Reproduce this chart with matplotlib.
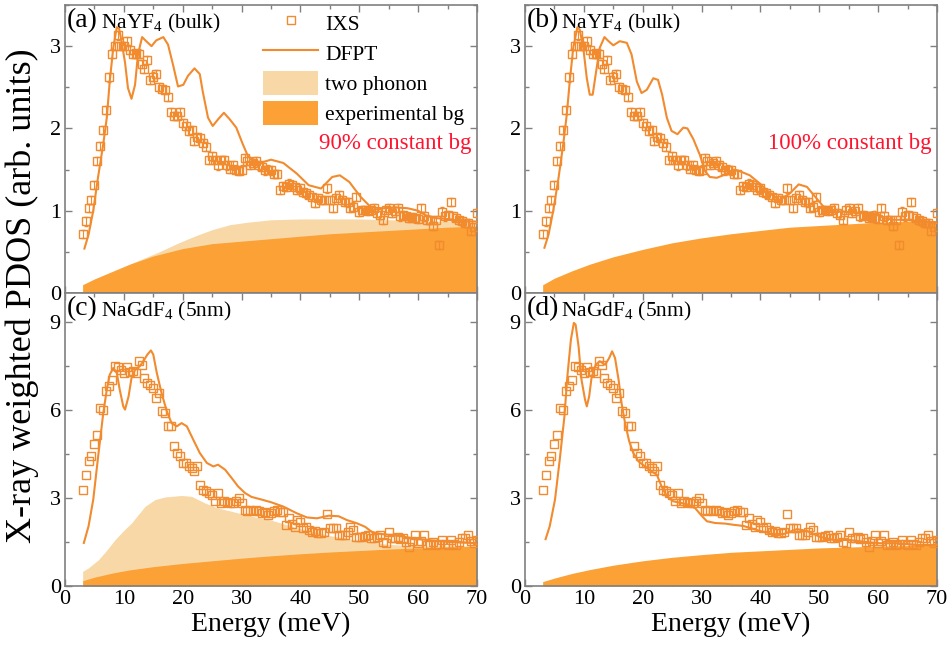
import numpy as np
import matplotlib
matplotlib.use("Agg")
import matplotlib.pyplot as plt
from matplotlib.patches import Patch
from matplotlib.lines import Line2D
from matplotlib.ticker import MultipleLocator

plt.rcParams['font.family'] = ['Liberation Serif', 'DejaVu Serif']
plt.rcParams['mathtext.fontset'] = 'custom'
plt.rcParams['mathtext.rm'] = 'Liberation Serif'
plt.rcParams['mathtext.it'] = 'Liberation Serif:italic'

# IXS energies (meV), 0.5 meV step
E_ixs = np.arange(3.0, 70.01, 0.5)

ixs_bulk = [0.72, 0.87, 1.03, 1.13, 1.31, 1.60, 1.79, 1.98, 2.22, 2.62,
            2.91, 3.00, 3.13, 3.00, 3.00, 3.06, 2.95, 2.91, 2.91, 2.91,
            2.78, 2.72, 2.83, 2.59, 2.63, 2.66, 2.50, 2.48, 2.47, 2.38,
            2.20, 2.15, 2.15, 2.20, 2.07, 2.03, 1.97, 1.98, 1.85, 1.90,
            1.88, 1.82, 1.78, 1.62, 1.66, 1.62, 1.55, 1.62, 1.62, 1.55,
            1.51, 1.55, 1.50, 1.48, 1.50, 1.64, 1.60, 1.56, 1.58, 1.60,
            1.55, 1.53, 1.49, 1.50, 1.49, 1.45, 1.45, 1.25, 1.30, 1.29,
            1.33, 1.31, 1.29, 1.25, 1.27, 1.23, 1.21, 1.19, 1.17, 1.09,
            1.15, 1.13, 1.13, 1.27, 1.13, 1.03, 1.15, 1.19, 1.13, 1.11,
            1.10, 1.03, 1.05, 1.17, 0.99, 1.01, 1.01, 1.00, 1.01, 1.03,
            0.97, 0.95, 0.89, 1.01, 1.03, 0.97, 1.00, 1.03, 0.93, 0.95,
            0.94, 0.91, 0.92, 0.91, 0.90, 1.03, 0.93, 0.89, 0.89, 0.81,
            0.89, 0.58, 0.99, 0.93, 0.95, 1.11, 0.93, 0.91, 0.89, 0.87,
            0.85, 0.85, 0.75, 0.80, 0.97]

ixs_nano = [3.29, 3.80, 4.25, 4.45, 4.85, 5.16, 6.07, 6.00, 6.64, 6.81,
            7.02, 7.52, 7.47, 7.36, 7.27, 7.47, 7.30, 7.33, 7.27, 7.67,
            7.55, 7.10, 6.93, 6.87, 6.76, 6.42, 6.59, 5.96, 5.90, 5.45,
            5.45, 4.77, 4.54, 4.43, 4.20, 4.20, 4.10, 4.03, 3.91, 4.08,
            3.46, 3.29, 3.23, 3.17, 3.10, 2.89, 3.17, 2.83, 2.89, 2.86,
            2.83, 2.83, 2.90, 3.00, 2.83, 2.60, 2.55, 2.58, 2.55, 2.61,
            2.55, 2.49, 2.52, 2.43, 2.48, 2.55, 2.59, 2.54, 2.54, 2.08,
            2.31, 2.10, 2.02, 2.25, 2.20, 1.97, 2.02, 1.90, 1.85, 1.88,
            1.80, 1.82, 1.85, 2.45, 1.97, 1.97, 1.97, 1.74, 1.74, 1.74,
            1.85, 2.02, 1.91, 1.68, 1.68, 1.68, 1.70, 1.74, 1.65, 1.63,
            1.68, 1.74, 1.50, 1.46, 1.85, 1.63, 1.63, 1.68, 1.60, 1.63,
            1.51, 1.34, 1.55, 1.74, 1.46, 1.55, 1.74, 1.40, 1.45, 1.51,
            1.40, 1.45, 1.57, 1.45, 1.40, 1.57, 1.45, 1.40, 1.50, 1.63,
            1.63, 1.74, 1.55, 1.46, 1.57]

err_bulk = 0.05

# DFPT curves
E_dfpt_a = [3.3, 4.0, 4.8, 5.6, 6.5, 7.1, 7.6, 8.2, 8.8, 9.2, 9.6, 10.2, 10.7, 11.3,
            11.9, 12.4, 13.1, 13.8, 14.7, 15.5, 16.7, 17.5, 18.4, 19.2, 20.1, 20.9,
            22.0, 22.9, 23.4, 24.3, 25.1, 26.0, 27.0, 28.0, 29.1, 30.2, 31.1, 33.1,
            35.0, 37.1, 39.4, 41.4, 43.5, 45.4, 46.7, 48.3, 50.2, 52.0, 54.0, 56.2,
            58.2, 60.0, 61.1, 62.9, 65.0, 67.4, 70.0]
dfpt_a = [0.54, 0.71, 1.00, 1.40, 1.81, 2.13, 2.57, 2.98, 3.23, 3.21, 3.06, 2.80, 2.49, 2.36,
          2.53, 2.90, 3.11, 3.06, 3.00, 3.07, 3.11, 3.02, 2.76, 2.51, 2.53, 2.64,
          2.73, 2.66, 2.45, 2.13, 2.03, 2.11, 2.19, 2.11, 2.01, 1.81, 1.66, 1.58,
          1.62, 1.58, 1.45, 1.31, 1.27, 1.41, 1.43, 1.35, 1.17, 1.04, 1.03, 1.04,
          1.03, 1.00, 0.95, 0.91, 0.90, 0.87, 0.87]

E_dfpt_b = [3.3, 4.0, 4.8, 5.7, 6.5, 7.1, 7.6, 8.2, 8.9, 9.3, 9.9, 10.5, 11.0, 11.5,
            12.1, 12.7, 13.5, 14.2, 15.0, 16.1, 17.3, 18.1, 19.0, 19.8, 20.7, 21.8,
            22.6, 23.3, 24.1, 24.9, 25.9, 26.9, 27.6, 28.6, 29.7, 30.6, 31.4, 32.6,
            34.0, 35.5, 36.5, 38.2, 39.9, 41.6, 43.3, 45.0, 46.5, 47.9, 49.3, 50.7,
            51.8, 54.1, 56.4, 58.0, 59.5, 60.9, 62.6, 64.8, 67.1, 70.0]
dfpt_b = [0.55, 0.71, 1.00, 1.40, 1.81, 2.17, 2.57, 2.98, 3.23, 3.20, 2.98, 2.61, 2.41, 2.41,
          2.70, 2.98, 3.11, 3.06, 3.01, 3.06, 3.04, 2.90, 2.57, 2.43, 2.47, 2.61,
          2.59, 2.41, 2.13, 1.97, 1.93, 2.01, 2.00, 1.87, 1.68, 1.48, 1.41, 1.40,
          1.44, 1.50, 1.48, 1.43, 1.33, 1.21, 1.13, 1.21, 1.32, 1.29, 1.17, 1.05,
          0.99, 0.99, 0.97, 0.97, 0.99, 0.91, 0.89, 0.89, 0.87, 0.86]

E_dfpt_c = [3.2, 4.0, 4.8, 5.7, 6.5, 7.1, 7.6, 8.2, 8.8, 9.3, 9.9, 10.2, 10.8, 11.3,
            11.9, 12.7, 13.3, 14.0, 14.6, 15.0, 15.6, 16.4, 17.3, 18.1, 19.0, 19.8,
            20.7, 21.8, 22.9, 24.1, 25.2, 26.0, 27.2, 28.3, 29.4, 30.6, 31.7, 33.4,
            35.0, 37.1, 39.4, 41.1, 42.8, 44.8, 46.5, 47.9, 49.6, 51.0, 52.1, 53.5,
            56.4, 59.3, 62.1, 65.0, 70.0]
dfpt_c = [1.47, 2.04, 2.95, 4.54, 5.90, 6.70, 7.21, 7.44, 7.27, 6.70, 6.13, 6.02, 6.47, 7.10,
          7.38, 7.50, 7.67, 7.90, 8.04, 7.90, 7.27, 6.59, 5.96, 5.56, 5.45, 5.56,
          5.45, 4.99, 4.54, 4.20, 4.08, 4.14, 3.97, 3.69, 3.40, 3.17, 3.04, 2.95,
          2.86, 2.71, 2.48, 2.34, 2.31, 2.40, 2.38, 2.25, 2.14, 2.02, 1.85, 1.78,
          1.72, 1.62, 1.56, 1.51, 1.46]

E_dfpt_d = [3.5, 4.2, 5.1, 5.9, 6.7, 7.2, 7.8, 8.3, 8.6, 9.1, 9.6, 10.2, 10.5, 10.9,
            11.3, 12.0, 12.7, 13.6, 14.3, 14.8, 15.3, 15.9, 16.4, 17.0, 17.7, 18.4,
            19.3, 20.4, 21.5, 22.4, 23.2, 24.1, 25.2, 26.6, 27.7, 28.9, 30.0, 30.9,
            32.3, 34.0, 35.4, 37.1, 39.9, 42.2, 43.9, 46.2, 47.9, 50.1, 52.4, 55.2,
            57.5, 60.3, 63.1, 66.5, 70.0]
dfpt_d = [1.60, 2.04, 2.95, 4.31, 5.79, 7.16, 8.41, 8.98, 8.92, 8.18, 7.04, 6.36, 6.13, 6.47,
          7.10, 7.55, 7.67, 7.55, 7.78, 8.01, 7.78, 7.04, 6.25, 5.56, 4.94, 4.54,
          4.25, 4.08, 3.91, 3.80, 3.40, 3.06, 2.89, 2.83, 2.78, 2.66, 2.40, 2.21,
          2.15, 2.13, 2.09, 2.05, 1.88, 1.77, 1.77, 1.94, 1.88, 1.68, 1.57, 1.57,
          1.51, 1.46, 1.46, 1.40, 1.40]

# experimental background and two-phonon (cumulative top) curves
E_bg = [3, 5, 8, 11, 15, 20, 25, 30, 35, 40, 45, 50, 55, 60, 65, 70]
bg_a = [0.10, 0.17, 0.26, 0.35, 0.45, 0.54, 0.60, 0.63, 0.66, 0.69, 0.72, 0.74, 0.76, 0.78, 0.80, 0.81]
bg_b = [0.10, 0.18, 0.27, 0.35, 0.44, 0.53, 0.61, 0.67, 0.72, 0.76, 0.80, 0.82, 0.84, 0.86, 0.87, 0.88]
bg_c = [0.18, 0.30, 0.44, 0.55, 0.66, 0.77, 0.86, 0.95, 1.03, 1.10, 1.16, 1.21, 1.26, 1.30, 1.33, 1.36]
bg_d = [0.15, 0.27, 0.43, 0.56, 0.71, 0.86, 0.98, 1.07, 1.15, 1.20, 1.25, 1.30, 1.33, 1.36, 1.38, 1.41]

E_tp_a = [3, 5, 8, 11, 13, 16, 19, 22, 25, 28, 31, 35, 40, 45, 50, 55, 60, 65, 70]
tp_a = [0.10, 0.17, 0.26, 0.35, 0.41, 0.50, 0.60, 0.69, 0.77, 0.83, 0.86, 0.89, 0.90, 0.90,
        0.90, 0.89, 0.88, 0.87, 0.86]
E_tp_c = [3, 4, 5.7, 7, 8.5, 10, 11.3, 12.5, 13.6, 15.3, 17.0, 19.8, 21.5, 23.8, 26, 28.3,
          31.7, 35, 40, 45, 50, 55, 60, 65, 70]
tp_c = [0.50, 0.62, 0.90, 1.20, 1.58, 1.90, 2.15, 2.45, 2.72, 2.95, 3.04, 3.09, 3.06, 2.83,
        2.66, 2.55, 2.38, 2.25, 1.95, 1.72, 1.55, 1.42, 1.37, 1.37, 1.38]

c_line = '#F28A2E'
c_bg = '#FBA135'
c_tp = '#F9D8A8'
c_spine = '#808080'

fig = plt.figure(figsize=(9.52, 6.51), dpi=100)
W, H = 952, 651
axa = fig.add_axes([65 / W, 1 - 293 / H, 412 / W, 288 / H])
axb = fig.add_axes([525 / W, 1 - 293 / H, 412 / W, 288 / H])
axc = fig.add_axes([65 / W, 1 - 586 / H, 412 / W, 293 / H])
axd = fig.add_axes([525 / W, 1 - 586 / H, 412 / W, 293 / H])

panels = [
    (axa, ixs_bulk, E_dfpt_a, dfpt_a, bg_a, E_tp_a, tp_a, '(a)', 'NaYF$_4$ (bulk)', 3.5, 1, 0.5),
    (axb, ixs_bulk, E_dfpt_b, dfpt_b, bg_b, None, None, '(b)', 'NaYF$_4$ (bulk)', 3.5, 1, 0.5),
    (axc, ixs_nano, E_dfpt_c, dfpt_c, bg_c, E_tp_c, tp_c, '(c)', 'NaGdF$_4$ (5nm)', 10, 3, 1.5),
    (axd, ixs_nano, E_dfpt_d, dfpt_d, bg_d, None, None, '(d)', 'NaGdF$_4$ (5nm)', 10, 3, 1.5),
]

for ax, ixs, ed, dd, bg, etp, tp, lab, name, ymax, maj, mnr in panels:
    if tp is not None:
        ax.fill_between(etp, 0, tp, color=c_tp, lw=0, zorder=1)
    ax.fill_between(E_bg, 0, bg, color=c_bg, lw=0, zorder=2)
    if ixs is ixs_bulk:
        ax.errorbar(E_ixs, ixs, yerr=err_bulk, fmt='s', ms=6, mfc='none', mec=c_line,
                    mew=1.0, ecolor=c_line, elinewidth=0.8, capsize=1.5, capthick=0.8, zorder=3)
    else:
        ax.plot(E_ixs, ixs, 's', ms=6, mfc='none', mec=c_line, mew=1.0, zorder=3)
    ax.plot(ed, dd, '-', color=c_line, lw=1.5, zorder=4)

    ax.set_xlim(0, 70)
    ax.set_ylim(0, ymax)
    ax.xaxis.set_major_locator(MultipleLocator(10))
    ax.xaxis.set_minor_locator(MultipleLocator(5))
    ax.yaxis.set_major_locator(MultipleLocator(maj))
    ax.yaxis.set_minor_locator(MultipleLocator(mnr))
    ax.tick_params(which='both', direction='in', top=True, right=True, color=c_spine,
                   labelsize=16, pad=3)
    ax.tick_params(which='major', length=5, width=1)
    ax.tick_params(which='minor', length=3, width=1)
    for s in ax.spines.values():
        s.set_color(c_spine)
        s.set_linewidth(1.2)
    ax.text(0.005, 0.99, lab, transform=ax.transAxes, fontsize=20, va='top', ha='left')
    ax.text(0.087, 0.975, name, transform=ax.transAxes, fontsize=15.5, va='top', ha='left')

for ax in (axa, axb):
    ax.tick_params(labelbottom=False)
for ax in (axc, axd):
    ax.set_xlabel('Energy (meV)', fontsize=20, labelpad=2)

axa.text(69, 1.82, '90% constant bg', color='#FF1430', fontsize=16.5, ha='right', va='center')
axb.text(69, 1.82, '100% constant bg', color='#FF1430', fontsize=16.5, ha='right', va='center')

handles = [Line2D([], [], ls='none', marker='s', ms=6, mfc='none', mec=c_line, mew=1.0),
           Line2D([], [], color=c_line, lw=1.5),
           Patch(facecolor=c_tp, edgecolor='none'),
           Patch(facecolor=c_bg, edgecolor='none')]
axa.legend(handles, ['IXS', 'DFPT', 'two phonon', 'experimental bg'], loc='upper right',
           bbox_to_anchor=(1.0, 1.025), frameon=False, fontsize=15.5, handlelength=2.6,
           handleheight=1.35, labelspacing=0.27, handletextpad=0.3, borderaxespad=0.2)

fig.text(22 / W, 1 - 296 / H, 'X-ray weighted PDOS (arb. units)', rotation=90,
         fontsize=26, ha='center', va='center')

fig.savefig('out.png', dpi=100)
